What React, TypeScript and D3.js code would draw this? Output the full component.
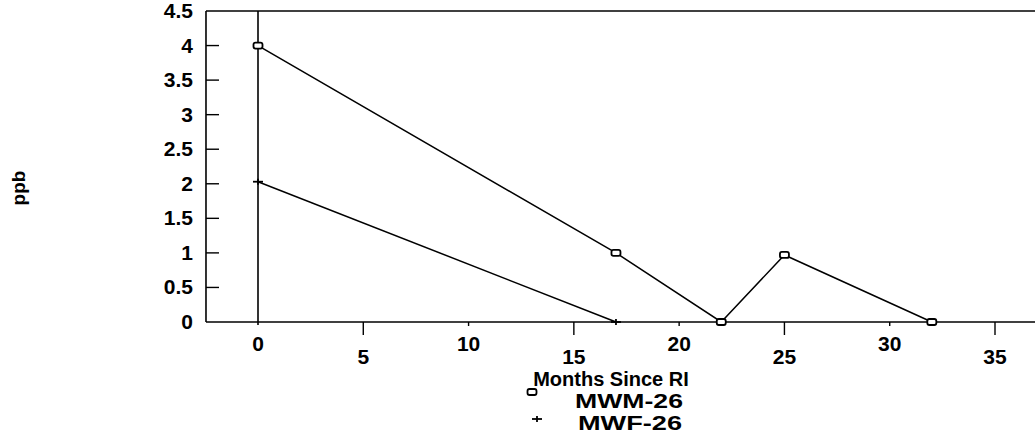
import React from "react";
import * as d3 from "d3";

const months = [0, 17, 22, 25, 32];
const mwm26 = [4, 1, 0, 0.97, 0];
const mwfMonths = [0, 17];
const mwf26 = [2.03, 0];
const yTicks = [0, 0.5, 1, 1.5, 2, 2.5, 3, 3.5, 4, 4.5];
const xTicks = [0, 5, 10, 15, 20, 25, 30, 35];
const seriesNames = ["MWM-26", "MWF-26"];

const W = 1035;
const H = 439;
const FONT = "'Liberation Sans', Arial, sans-serif";

export default function App() {
  const x = d3.scaleLinear().domain([0, 35]).range([258, 995]);
  const y = d3.scaleLinear().domain([0, 4.5]).range([322, 11]);
  const xLeft = x(-2.47);
  const xRight = x(40);

  const line = d3
    .line<[number, number]>()
    .x((d) => x(d[0]))
    .y((d) => y(d[1]));

  const mwmPts: [number, number][] = months.map((m, i) => [m, mwm26[i]]);
  const mwfPts: [number, number][] = mwfMonths.map((m, i) => [m, mwf26[i]]);

  const rectMarker = (cx: number, cy: number, key: string) => (
    <rect key={key} x={cx - 4.5} y={cy - 3} width={9} height={6} rx={2} fill="white" stroke="black" strokeWidth={1.8} />
  );
  const plusMarker = (cx: number, cy: number, key: string) => (
    <g key={key} stroke="black" strokeWidth={1.8}>
      <line x1={cx - 5} x2={cx + 5} y1={cy} y2={cy} />
      <line x1={cx} x2={cx} y1={cy - 3} y2={cy + 3} />
    </g>
  );

  return (
    <svg width={W} height={H} style={{ position: "absolute", left: 0, top: 0, background: "white" }} fontFamily={FONT}>
      {/* frame */}
      <g stroke="black" strokeWidth={1.6} fill="none">
        <line x1={xLeft} x2={xRight} y1={y(4.5)} y2={y(4.5)} />
        <line x1={xLeft} x2={xLeft} y1={y(4.5)} y2={y(0)} />
        <line x1={xLeft} x2={xRight} y1={y(0)} y2={y(0)} />
        <line x1={x(0)} x2={x(0)} y1={y(4.5)} y2={y(0) + 3} />
      </g>
      {/* y ticks */}
      {yTicks.map((t) => (
        <g key={"y" + t}>
          {t > 0 && t < 4.5 && (
            <line x1={xLeft} x2={xLeft + 13} y1={y(t)} y2={y(t)} stroke="black" strokeWidth={1.4} />
          )}
          <text x={193} y={y(t) + 7} textAnchor="end" fontSize={21} fontWeight="bold">
            {t}
          </text>
        </g>
      ))}
      {/* x ticks */}
      {xTicks.map((t, i) => {
        const odd = i % 2 === 1;
        return (
          <g key={"x" + t}>
            {t !== 0 && (
              <line x1={x(t)} x2={x(t)} y1={y(0)} y2={y(0) + (odd ? 13 : 4)} stroke="black" strokeWidth={1.4} />
            )}
            <text x={x(t)} y={odd ? 364 : 351} textAnchor="middle" fontSize={21} fontWeight="bold">
              {t}
            </text>
          </g>
        );
      })}
      {/* lines */}
      <path d={line(mwmPts) || ""} fill="none" stroke="black" strokeWidth={1.5} />
      <path d={line(mwfPts) || ""} fill="none" stroke="black" strokeWidth={1.5} />
      {mwmPts.map((p, i) => rectMarker(x(p[0]), y(p[1]), "m" + i))}
      {mwfPts.map((p, i) => plusMarker(x(p[0]), y(p[1]), "f" + i))}
      {/* axis titles */}
      <text x={611} y={386} textAnchor="middle" fontSize={20} fontWeight="bold">
        Months Since RI
      </text>
      <text transform="translate(25,188) rotate(-90)" textAnchor="middle" fontSize={19} fontWeight="bold">
        ppb
      </text>
      {/* legend */}
      {rectMarker(532, 392, "lm")}
      <text x={575} y={408} fontSize={20} fontWeight="bold" textLength={108} lengthAdjust="spacingAndGlyphs">
        {seriesNames[0]}
      </text>
      {plusMarker(537, 419, "lf")}
      <text x={578} y={430} fontSize={20} fontWeight="bold" textLength={104} lengthAdjust="spacingAndGlyphs">
        {seriesNames[1]}
      </text>
    </svg>
  );
}
